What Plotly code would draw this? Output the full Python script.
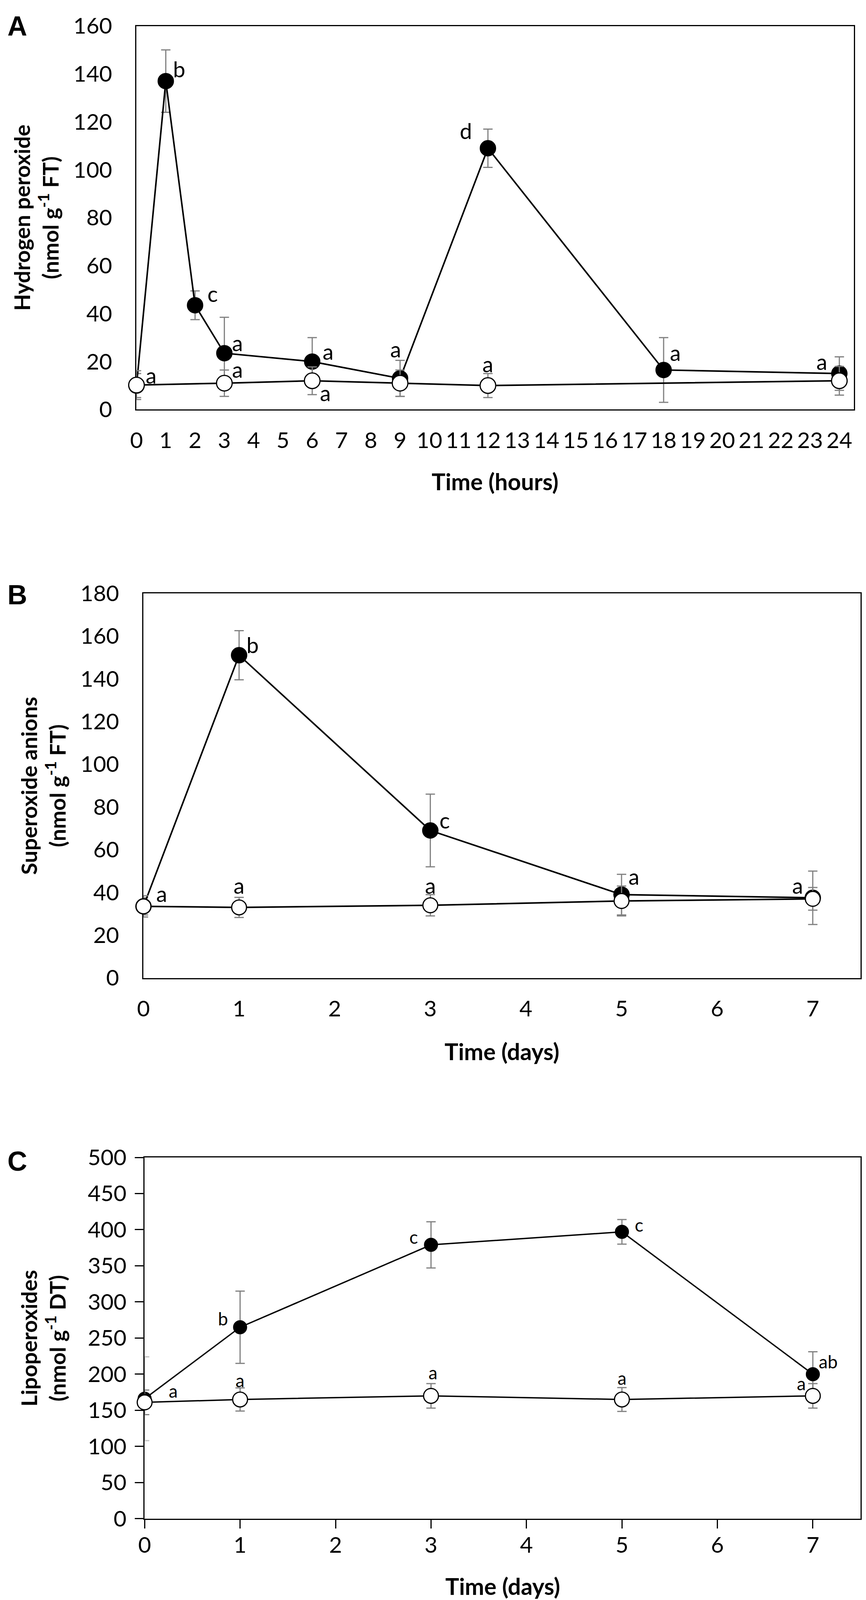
import plotly.graph_objects as go

W, H = 2217, 4216

# ---- Panel A: hydrogen peroxide, hours ----
a_hours_treated = [0, 1, 2, 3, 6, 9, 12, 18, 24]
a_treated = [10, 137, 43.5, 23.5, 20, 13, 109, 16.5, 15]
a_treated_err = [5, 13, 6, 15, 10, 7.5, 8, 13.5, 7]
a_hours_control = [0, 3, 6, 9, 12, 24]
a_control = [10.2, 11, 12, 11, 10, 12]
a_control_err = [6, 5.5, 5.8, 5.5, 5, 6]
a_letters = ["a", "b", "c", "a", "a", "a", "a", "a", "d", "a", "a", "a"]
a_letter_x = [0.5, 1.46, 2.6, 3.45, 3.45, 6.55, 6.45, 8.85, 11.25, 12, 18.4, 23.4]
a_letter_y = [14.3, 142, 48.3, 27.8, 16.8, 24.3, 7, 25.2, 116.3, 19, 23.8, 20]

# ---- Panel B: superoxide anions, days ----
b_days = [0, 1, 3, 5, 7]
b_treated = [33.5, 151, 69, 39, 37.5]
b_treated_err = [4, 11.5, 17, 9.5, 12.5]
b_control = [33.5, 33, 34, 36, 37]
b_control_err = [5, 4.7, 5, 7, 5.3]
b_letters = ["a", "b", "a", "a", "c", "a", "a"]
b_letter_x = [0.19, 1.14, 1.0, 3.0, 3.15, 5.13, 6.84]
b_letter_y = [39.4, 156, 43.3, 43.3, 73.8, 47.6, 43.3]

# ---- Panel C: lipoperoxides, days ----
c_days = [0, 1, 3, 5, 7]
c_treated = [166, 265, 379, 397, 200]
c_treated_err = [58, 50, 32, 17, 31]
c_control = [161, 165, 170, 165, 170]
c_control_err = [17, 16, 17, 16.5, 17]
c_letters = ["a", "b", "a", "c", "a", "c", "a", "ab", "a"]
c_letter_x = [0.3, 0.82, 1.0, 2.82, 3.02, 5.18, 5.0, 7.16, 6.88]
c_letter_y = [177, 277, 191.6, 390, 202.5, 407, 195, 217.7, 187]

FONT = "Lato"
ERR = "#808080"


def px_x(p):
    return p / W


def px_y(p):
    return 1 - p / H


fig = go.Figure()


def add_pair(xs_t, ys_t, err_t, xs_c, ys_c, err_c, ax, size_t, size_c, lw, first_err_color=None):
    xa = "x" if ax == 1 else f"x{ax}"
    ya = "y" if ax == 1 else f"y{ax}"
    err_array = list(err_t)
    if first_err_color is not None:
        # the first error bar is drawn lighter in the original
        fig.add_trace(go.Scatter(
            x=xs_t[:1], y=ys_t[:1], mode="markers", xaxis=xa, yaxis=ya,
            marker=dict(size=1, opacity=0), cliponaxis=False, showlegend=False,
            error_y=dict(type="data", array=err_t[:1], color=first_err_color, thickness=3, width=12)))
        err_array[0] = 0
    fig.add_trace(go.Scatter(
        x=xs_t, y=ys_t, mode="lines+markers", xaxis=xa, yaxis=ya,
        line=dict(color="black", width=lw),
        marker=dict(size=size_t, color="black", line=dict(color="black", width=2)),
        error_y=dict(type="data", array=err_array, color=ERR, thickness=3, width=12),
        cliponaxis=False, showlegend=False))
    fig.add_trace(go.Scatter(
        x=xs_c, y=ys_c, mode="lines+markers", xaxis=xa, yaxis=ya,
        line=dict(color="black", width=lw),
        marker=dict(size=size_c, color="white", line=dict(color="black", width=3)),
        error_y=dict(type="data", array=err_c, color=ERR, thickness=3, width=12),
        cliponaxis=False, showlegend=False))


add_pair(a_hours_treated, a_treated, a_treated_err, a_hours_control, a_control, a_control_err,
         1, 40, 40, 4)
add_pair(b_days, b_treated, b_treated_err, b_days, b_control, b_control_err,
         2, 40, 38, 4)
add_pair(c_days, c_treated, c_treated_err, c_days, c_control, c_control_err,
         3, 34, 38, 3.5, first_err_color="#c0c0c0")

tick_font = dict(family=FONT, size=57, color="black")


def xaxis(domain, rng, anchor, ticks):
    return dict(domain=domain, range=rng, anchor=anchor, dtick=1, tick0=0,
                showgrid=False, zeroline=False, showline=True, linecolor="black",
                linewidth=3, mirror=True, ticks=ticks, ticklen=22, tickwidth=3,
                tickcolor="black", tickfont=tick_font, layer="below traces",
                ticklabelstandoff=27 if ticks == "" else -6)


def yaxis(domain, rng, dtick, anchor, ticks):
    return dict(domain=domain, range=rng, anchor=anchor, dtick=dtick, tick0=0,
                showgrid=False, zeroline=False, showline=True, linecolor="black",
                linewidth=3, mirror=True, ticks=ticks, ticklen=22, tickwidth=3,
                tickcolor="black", tickfont=tick_font, layer="below traces",
                ticklabelstandoff=48 if ticks == "" else 10)


# plot boxes in pixels (left, right, bottom, top)
a_box = (335, 2186, 1029, 31)
b_box = (353, 2203, 2508, 1507)
c_box = (356, 2203, 3915, 2975)

annotations = []


def letters(texts, xs, ys, ax, size):
    xa = "x" if ax == 1 else f"x{ax}"
    ya = "y" if ax == 1 else f"y{ax}"
    for t, x, y in zip(texts, xs, ys):
        annotations.append(dict(text=t, x=x, y=y, xref=xa, yref=ya, showarrow=False,
                                xanchor="center", yanchor="middle",
                                font=dict(family=FONT, size=size, color="black")))


letters(a_letters, a_letter_x, a_letter_y, 1, 56)
letters(b_letters, b_letter_x, b_letter_y, 2, 56)
letters(c_letters, c_letter_x, c_letter_y, 3, 46)

y_title_font = dict(family=FONT, size=56, color="black")
x_title_font = dict(family=FONT, size=59, color="black")
y_titles = [
    ("<b>Hydrogen peroxide<br>(nmol g<sup>-1</sup> FT)</b>", 76, a_box),
    ("<b>Superoxide anions<br>(nmol g<sup>-1</sup> FT)</b>", 94, b_box),
    ("<b>Lipoperoxides<br>(nmol g<sup>-1</sup> DT)</b>", 94, c_box),
]
for text, xp, box in y_titles:
    annotations.append(dict(text=text, x=px_x(xp), y=px_y((box[2] + box[3]) / 2),
                            xref="paper", yref="paper",
                            showarrow=False, textangle=-90, xanchor="center", yanchor="middle",
                            font=y_title_font))

x_titles = [
    ("<b>Time (hours)</b>", a_box, 1216),
    ("<b>Time (days)</b>", b_box, 2699),
    ("<b>Time (days)</b>", c_box, 4090),
]
for text, box, yp in x_titles:
    annotations.append(dict(text=text, x=px_x((box[0] + box[1]) / 2), y=px_y(yp),
                            xref="paper", yref="paper",
                            showarrow=False, xanchor="center", yanchor="middle",
                            font=x_title_font))

for label, yp in [("A", 32), ("B", 1511), ("C", 2985)]:
    annotations.append(dict(text=f"<b>{label}</b>", x=0, y=px_y(yp), xref="paper", yref="paper",
                            showarrow=False, xanchor="left", yanchor="middle",
                            font=dict(family="Liberation Sans", size=70, color="black")))


def dom(box):
    return [px_x(box[0]), px_x(box[1])], [px_y(box[2]), px_y(box[3])]


a_dx, a_dy = dom(a_box)
b_dx, b_dy = dom(b_box)
c_dx, c_dy = dom(c_box)

fig.update_layout(
    width=W, height=H,
    margin=dict(l=0, r=0, t=0, b=0),
    paper_bgcolor="white", plot_bgcolor="white",
    showlegend=False,
    xaxis=xaxis(a_dx, [0, 24.5], "y", ""),
    yaxis=yaxis(a_dy, [0, 160], 20, "x", ""),
    xaxis2=xaxis(b_dx, [0, 7.5], "y2", ""),
    yaxis2=yaxis(b_dy, [0, 180], 20, "x2", ""),
    xaxis3=xaxis(c_dx, [0, 7.5], "y3", "outside"),
    yaxis3=yaxis(c_dy, [0, 500], 50, "x3", "outside"),
    annotations=annotations,
)

# page margin off so the full-size figure sits at the window's corner
fig.write_html("out.html", config={"displayModeBar": False},
               post_script="document.body.style.margin='0';document.body.style.overflow='hidden';")
